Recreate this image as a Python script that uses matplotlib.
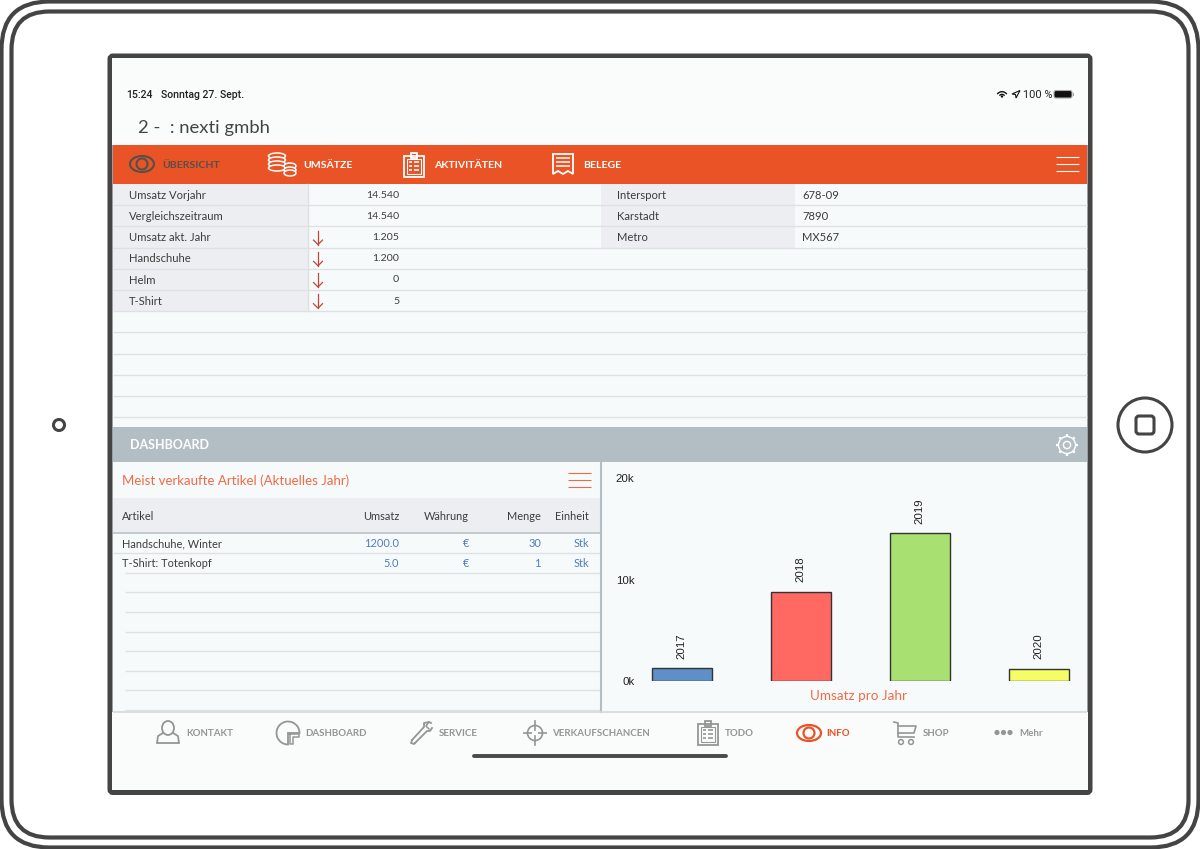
import matplotlib
matplotlib.use('Agg')
import matplotlib.pyplot as plt
from matplotlib.patches import FancyBboxPatch, Rectangle, Circle, Ellipse, Wedge, Polygon

FONT = 'Lato'
DARK = '#444444'
ORANGE = '#EA5326'
SALMON = '#EE6B46'
GREY_CELL = '#ECEEF1'
LINE = '#DDE1E3'
SLATE = '#B3BEC4'
BLUE = '#4A7DBF'
NAV_GREY = '#959595'
RED = '#C4443A'

years = ['2017', '2018', '2019', '2020']
revenue = [1250, 8750, 14540, 1205]
bar_colors = ['#5F8FC6', '#FF6961', '#A9E072', '#F6FC66']
y_ticks = [0, 10000, 20000]
y_labels = ['0k', '10k', '20k']

kpi_labels = ['Umsatz Vorjahr', 'Vergleichszeitraum', 'Umsatz akt. Jahr', 'Handschuhe', 'Helm', 'T-Shirt']
kpi_values = ['14.540', '14.540', '1.205', '1.200', '0', '5']
kpi_down = [False, False, True, True, True, True]
partner_labels = ['Intersport', 'Karstadt', 'Metro']
partner_values = ['678-09', '7890', 'MX567']

col_heads = ['Umsatz', 'Währung', 'Menge', 'Einheit']
articles = ['Handschuhe, Winter', 'T-Shirt: Totenkopf']
art_umsatz = ['1200.0', '5.0']
art_currency = ['€', '€']
art_menge = ['30', '1']
art_unit = ['Stk', 'Stk']

top_tabs = ['ÜBERSICHT', 'UMSÄTZE', 'AKTIVITÄTEN', 'BELEGE']
nav_labels = ['KONTAKT', 'DASHBOARD', 'SERVICE', 'VERKAUFSCHANCEN', 'TODO', 'INFO', 'SHOP', 'Mehr']

fig = plt.figure(figsize=(12, 8.49), dpi=100, facecolor='white')
ui = fig.add_axes([0, 0, 1, 1])
ui.set_xlim(0, 1200)
ui.set_ylim(849, 0)
ui.axis('off')


def px(size):
    return size * 0.72


def txt(x, y, s, size=11, color='#3c3c3c', ha='left', weight='normal', family=FONT, **kw):
    ui.text(x, y, s, fontsize=px(size), color=color, ha=ha, va='center', fontweight=weight, family=family, **kw)


def rect(x0, y0, x1, y1, color):
    ui.add_patch(Rectangle((x0, y0), x1 - x0, y1 - y0, facecolor=color, edgecolor='none'))


def hline(x0, x1, y, color=LINE, lw=1.0):
    ui.plot([x0, x1], [y, y], color=color, lw=lw, solid_capstyle='butt')


def round_box(x0, y0, x1, y1, r, face='none', edge=DARK, lw=3.0):
    ui.add_patch(FancyBboxPatch((x0 + r, y0 + r), x1 - x0 - 2 * r, y1 - y0 - 2 * r,
                                boxstyle='round,pad=%f,rounding_size=%f' % (r, r),
                                facecolor=face, edgecolor=edge, linewidth=lw))


def burger(x0, x1, y, color):
    for dy in (-7, 0, 7):
        hline(x0, x1, y + dy, color, 0.8)


def eye(cx, cy, color, lw=1.3):
    ui.add_patch(Ellipse((cx, cy), 24, 16, facecolor='none', edgecolor=color, lw=lw))
    ui.add_patch(Circle((cx, cy), 5.5, facecolor='none', edgecolor=color, lw=lw))


def coins(cx, cy, color):
    for x, y, w in [(cx - 6, cy - 8, 17), (cx - 6, cy - 4, 17), (cx - 6, cy, 17), (cx - 6, cy + 4, 17),
                    (cx + 7, cy + 2, 12), (cx + 7, cy + 6, 12), (cx + 7, cy + 9, 12)]:
        ui.add_patch(Ellipse((x, y), w, 6, facecolor=ORANGE, edgecolor=color, lw=1.1))


def clipboard(cx, cy, color, lw=1.3, face='none'):
    ui.add_patch(Rectangle((cx - 10, cy - 9), 20, 21, facecolor=face, edgecolor=color, lw=lw))
    ui.add_patch(Rectangle((cx - 7, cy - 6), 14, 15, facecolor=face, edgecolor=color, lw=lw * 0.6))
    ui.add_patch(Rectangle((cx - 3, cy - 12), 6, 5, facecolor=face, edgecolor=color, lw=lw))
    for dy in (-3, 1, 5):
        hline(cx - 5, cx - 2, cy + dy, color, 1.2)
        hline(cx, cx + 5, cy + dy, color, 1.2)


def receipt(cx, cy, color):
    xs = [cx - 10, cx + 10, cx + 10, cx + 5, cx, cx - 5, cx - 10]
    ys = [cy - 10, cy - 10, cy + 10, cy + 7, cy + 10, cy + 7, cy + 10]
    ui.add_patch(Polygon(list(zip(xs, ys)), closed=True, facecolor='none', edgecolor=color, lw=1.3))
    for dy in (-6, -2, 2):
        hline(cx - 7, cx + 7, cy + dy, color, 1.1)


def person(cx, cy, color):
    ui.add_patch(Ellipse((cx, cy - 4), 12, 14, facecolor='none', edgecolor=color, lw=1.3))
    ui.plot([cx - 11, cx - 10, cx - 5], [cy + 11, cy + 4, cy + 1], color=color, lw=1.3)
    ui.plot([cx + 11, cx + 10, cx + 5], [cy + 11, cy + 4, cy + 1], color=color, lw=1.3)
    hline(cx - 11, cx + 11, cy + 11, color, 1.3)


def pie_icon(cx, cy, color):
    ui.add_patch(Wedge((cx, cy), 11.5, 90, 360, facecolor='none', edgecolor=color, lw=1.3))
    ui.plot([cx + 2, cx + 11, cx + 11, cx + 5, cx + 5, cx + 2, cx + 2],
            [cy + 1, cy + 1, cy + 4, cy + 4, cy + 11, cy + 11, cy + 1], color=color, lw=1.1)


def wrench(cx, cy, color):
    ui.plot([cx - 9, cx + 3, cx + 3, cx + 8, cx + 10], [cy + 7, cy - 6, cy - 10, cy - 11, cy - 10], color=color, lw=1.3)
    ui.plot([cx - 6, cx + 6, cx + 9, cx + 11], [cy + 10, cy - 2, cy - 2, cy - 5], color=color, lw=1.3)
    ui.plot([cx - 9, cx - 10, cx - 7, cx - 6], [cy + 7, cy + 10, cy + 11, cy + 10], color=color, lw=1.3)
    ui.plot([cx + 8, cx + 5, cx + 8], [cy - 11, cy - 7, cy - 4], color=color, lw=1.1)


def target(cx, cy, color):
    ui.add_patch(Circle((cx, cy), 7.5, facecolor='none', edgecolor=color, lw=1.2))
    ui.plot([cx, cx], [cy - 12, cy - 3], color=color, lw=1.2)
    ui.plot([cx, cx], [cy + 3, cy + 12], color=color, lw=1.2)
    hline(cx - 12, cx - 3, cy, color, 1.2)
    hline(cx + 3, cx + 12, cy, color, 1.2)


def cart(cx, cy, color):
    ui.plot([cx - 11, cx - 7, cx - 7, cx + 9], [cy - 11, cy - 10, cy + 4, cy + 4], color=color, lw=1.2)
    ui.plot([cx - 7, cx + 11, cx + 9, cx - 7], [cy - 7, cy - 7, cy, cy], color=color, lw=1.2)
    for dx in (-4, 6):
        ui.add_patch(Circle((cx + dx, cy + 9), 2.4, facecolor='none', edgecolor=color, lw=1.1))


def gear(cx, cy, color):
    ui.add_patch(Circle((cx, cy), 8.5, facecolor='none', edgecolor=color, lw=1.0))
    ui.add_patch(Circle((cx, cy), 3.6, facecolor='none', edgecolor=color, lw=1.0))
    for dx, dy in [(0, 1), (0.7, 0.7), (1, 0), (0.7, -0.7), (0, -1), (-0.7, -0.7), (-1, 0), (-0.7, 0.7)]:
        ui.plot([cx + 8.5 * dx, cx + 11 * dx], [cy + 8.5 * dy, cy + 11 * dy], color=color, lw=1.6, solid_capstyle='butt')


def down_arrow(cx, cy):
    ui.plot([cx, cx], [cy - 7, cy + 7], color=RED, lw=0.9)
    ui.plot([cx - 4.5, cx, cx + 4.5], [cy + 2.5, cy + 7, cy + 2.5], color=RED, lw=0.9)


# device
round_box(1.5, 1.5, 1198.5, 847.5, 48)
round_box(11.5, 11.5, 1188.5, 837.5, 38)
ui.add_patch(Circle((59, 425), 5.5, facecolor='none', edgecolor=DARK, lw=2.2))
ui.add_patch(Circle((1145, 425), 27, facecolor='none', edgecolor=DARK, lw=2.2))
round_box(1136, 416, 1154, 434, 3, lw=2.2)
round_box(110, 56, 1090, 792.5, 3, face='#F7FAFB', lw=3.6)
rect(112, 58, 1088, 145, '#FAFCFC')
rect(112, 712, 1088, 790, '#FAFCFC')

# status bar
txt(126, 94.5, '15:24', 10.5, '#222222', weight='medium', family='Roboto')
txt(161, 94.5, 'Sonntag 27. Sept.', 10.5, '#222222', weight='medium', family='Roboto')
ui.add_patch(Wedge((1002, 97.5), 6.5, 215, 325, width=1.4, facecolor='#111111'))
ui.add_patch(Wedge((1002, 97.5), 3.8, 215, 325, width=1.4, facecolor='#111111'))
ui.add_patch(Circle((1002, 96.5), 1.2, facecolor='#111111'))
ui.add_patch(Polygon([(1012, 94), (1020, 90.5), (1016, 98), (1015.5, 94.5)], closed=True, facecolor='none', edgecolor='#111111', lw=0.8))
txt(1023, 94.5, '100 %', 11, '#222222', family='Roboto')
round_box(1054, 90.5, 1072, 98, 2, face='#111111', edge='#AAAAAA', lw=0.8)
rect(1072.5, 93, 1074, 96, '#AAAAAA')
txt(138, 127.5, '2 -  : nexti gmbh', 18.5, '#444444')

# tab bar
rect(113, 145, 1087, 184, ORANGE)
eye(142, 164, '#55504C', 1.5)
coins(283, 164, 'white')
clipboard(414, 165, 'white')
receipt(563, 164, 'white')
tab_x = [162, 303, 434, 583]
for i in range(len(top_tabs)):
    txt(tab_x[i], 165, top_tabs[i], 10.5, '#55504C' if i == 0 else 'white', weight='bold')
burger(1056, 1079, 164, 'white')

# upper tables
row_h = 21.2
rect(113, 184, 308, 184 + row_h * 6, GREY_CELL)
rect(601, 184, 795, 184 + row_h * 3, GREY_CELL)
for i in range(1, 12):
    hline(113, 1087, 184 + row_h * i, LINE)
ui.plot([308, 308], [184, 184 + row_h * 6], color=LINE, lw=1)
for i in range(len(kpi_labels)):
    y = 195.2 + row_h * i
    txt(129, y, kpi_labels[i], 11.3)
    txt(399, y, kpi_values[i], 10.5, ha='right')
    if kpi_down[i]:
        down_arrow(318, y)
for i in range(len(partner_labels)):
    y = 195.2 + row_h * i
    txt(617, y, partner_labels[i], 11.3)
    txt(802, y, partner_values[i], 11.3)

# dashboard header
rect(113, 427, 1087, 462, SLATE)
txt(130, 444.5, 'DASHBOARD', 12.5, 'white', weight='bold')
gear(1067, 445, 'white')

# article table
txt(122, 480.5, 'Meist verkaufte Artikel (Aktuelles Jahr)', 13.3, SALMON)
burger(568, 591, 480, SALMON)
rect(113, 498, 600, 532, GREY_CELL)
hline(113, 600, 533, '#C3CACD', 1.4)
txt(122, 516, 'Artikel', 11)
head_x = [399, 469, 541, 589]
for i in range(len(col_heads)):
    txt(head_x[i], 516, col_heads[i], 11, ha='right')
hline(113, 600, 552.7)
for i in range(8):
    hline(125, 600, 572.7 + 19.6 * i)
for i in range(len(articles)):
    y = 543.5 + 20 * i
    txt(122, y, articles[i], 11)
    txt(head_x[0], y, art_umsatz[i], 11, BLUE, ha='right')
    txt(head_x[1], y, art_currency[i], 11, BLUE, ha='right')
    txt(head_x[2], y, art_menge[i], 11, BLUE, ha='right')
    txt(head_x[3], y, art_unit[i], 11, BLUE, ha='right')
ui.plot([600.5, 600.5], [462, 712], color=SLATE, lw=1.5)

# bottom navigation
hline(113, 1087, 711.5, '#D5D9DB', 1.2)
nav_x = [186, 305, 439, 552, 725, 826, 923, 1019]
person(168, 732, NAV_GREY)
pie_icon(288, 733, NAV_GREY)
wrench(421, 733, NAV_GREY)
target(535, 733, NAV_GREY)
clipboard(708, 733, NAV_GREY)
eye(809, 733, ORANGE, 1.6)
cart(905, 733, NAV_GREY)
for dx in (997, 1003.5, 1010):
    ui.add_patch(Circle((dx, 732.5), 2.6, facecolor=NAV_GREY))
for i in range(len(nav_labels)):
    color = ORANGE if nav_labels[i] == 'INFO' else NAV_GREY
    txt(nav_x[i], 734, nav_labels[i], 9.8, color, weight='bold')
ui.plot([474, 726], [756, 756], color='#4A4A4A', lw=2.8, solid_capstyle='round')

txt(858, 695.5, 'Umsatz pro Jahr', 13.5, SALMON, ha='center')

# bar chart
ax = fig.add_axes([636.5 / 1200, 1 - 681 / 849, (1087 - 636.5) / 1200, 203 / 849])
ax.patch.set_alpha(0)
pos = list(range(len(years)))
bars = ax.bar(pos, revenue, width=60 / 119, color=bar_colors, edgecolor='#333333', linewidth=1.0)
ax.set_xlim((637 - 682) / 119, (1087.5 - 682) / 119)
ax.set_ylim(0, 20000)
ax.set_yticks(y_ticks)
ax.set_yticklabels(y_labels, fontsize=px(11.5), family='Liberation Sans', color='#222222')
ax.set_xticks([])
ax.tick_params(axis='y', length=0, pad=1.5)
for s in ax.spines.values():
    s.set_visible(False)
for b, year in zip(bars, years):
    ax.annotate(year, (b.get_x() + b.get_width() / 2, b.get_height()), xytext=(0, 7), textcoords='offset points',
                rotation=90, ha='center', va='bottom', fontsize=px(11.5), family='Liberation Sans', color='#222222')

fig.savefig('out.png', dpi=100)
